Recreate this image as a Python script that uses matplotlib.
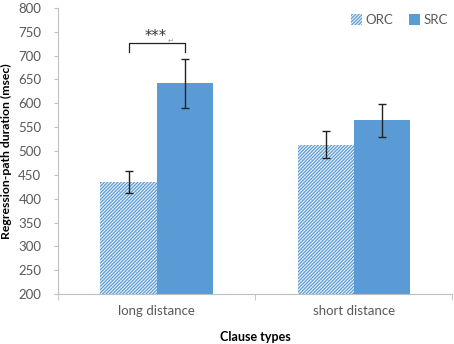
import numpy as np
import matplotlib.pyplot as plt

plt.rcParams['font.family'] = ['Lato', 'DejaVu Sans']
plt.rcParams['hatch.color'] = '#5B9BD5'
plt.rcParams['hatch.linewidth'] = 0.9

categories = ['long distance', 'short distance']
orc = [435, 513]
orc_err = [24, 28]
src = [642, 564]
src_err = [51, 35]

blue = '#5B9BD5'
grey = '#595959'

fig = plt.figure(figsize=(4.54, 3.44), dpi=100)
ax = fig.add_axes([0.128, 0.145, 0.868, 0.832])

x = np.arange(len(categories))
w = 0.285
ax.bar(x - w/2, orc, w, color='#EEF4FB', edgecolor=blue, linewidth=0, hatch='/' * 10,
       label='ORC', yerr=orc_err, capsize=3, error_kw=dict(ecolor='#222222', elinewidth=1))
ax.bar(x + w/2, src, w, color=blue, label='SRC',
       yerr=src_err, capsize=3, error_kw=dict(ecolor='#222222', elinewidth=1))

# significance bracket
x0, x1 = x[0] - w/2, x[0] + w/2
ax.plot([x0, x0, x1, x1], [708, 727, 727, 708], color='#222222', lw=0.9)
ax.text(x[0] - 0.005, 725, '***', ha='center', va='bottom', fontsize=10.5,
        color='#333333', family='DejaVu Sans')
ax.text(x[0] + 0.07, 724, '↵', ha='center', va='bottom', fontsize=5, color='#999999',
        family='DejaVu Sans')

ax.set_xlim(-0.5, 1.5)
ax.set_ylim(200, 800)
ax.set_yticks(range(200, 801, 50))
ax.set_xticks(x)
ax.set_xticklabels(categories)
ax.set_xticks([-0.5, 0.5, 1.5], minor=True)
ax.tick_params(axis='x', which='major', length=0, pad=8, labelsize=9.5, labelcolor=grey)
ax.tick_params(axis='x', which='minor', length=4, color='#BFBFBF', direction='out')
ax.tick_params(axis='y', length=3, color='#BFBFBF', labelsize=9.5, labelcolor=grey, pad=9)
for s in ['top', 'right']:
    ax.spines[s].set_visible(False)
ax.spines['left'].set_color('#BFBFBF')
ax.spines['bottom'].set_color('#BFBFBF')

ax.set_xlabel('Clause types', fontsize=9, fontweight='bold', labelpad=10)
ax.set_ylabel('Regression-path duration (msec)', fontsize=8.8, fontweight='bold')
ax.yaxis.set_label_coords(-0.118, 0.5)

ax.legend(loc='upper right', bbox_to_anchor=(1.02, 1.02), ncol=2, frameon=False,
          fontsize=9.5, handlelength=0.8, handleheight=0.8, handletextpad=0.3,
          columnspacing=1.2, labelcolor=grey)

fig.savefig('out.png', dpi=100)
